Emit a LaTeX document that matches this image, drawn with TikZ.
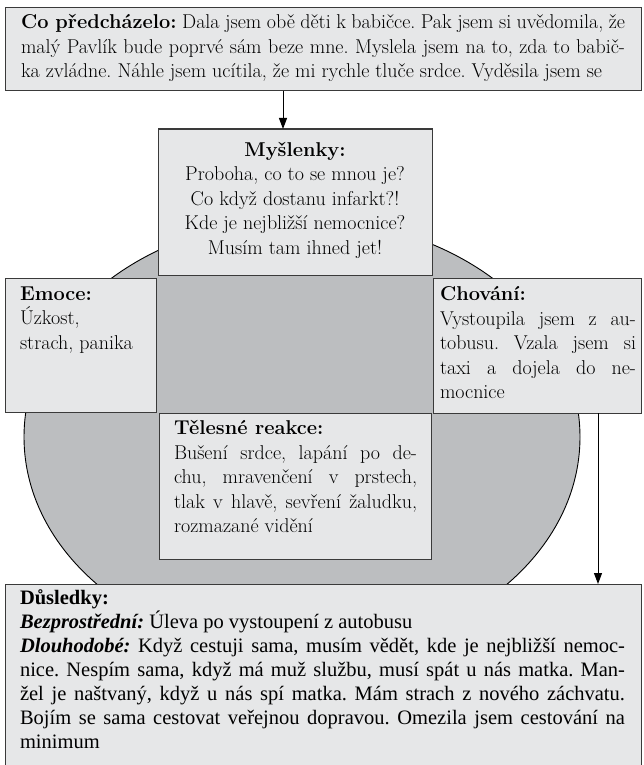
\documentclass[tikz,border=0pt]{standalone}
\usepackage{fontspec}
\newfontfamily\timesf{Liberation Serif}
\usetikzlibrary{arrows.meta,shapes.geometric}
\definecolor{boxfill}{HTML}{E6E7E8}
\definecolor{ellfill}{HTML}{BCBEC0}
\definecolor{boxline}{HTML}{3A3A3A}
\tolerance=10000
\hyphenpenalty=10000
\frenchspacing
\begin{document}
\begin{tikzpicture}[x=1pt,y=-1pt,
  panel/.style={draw=boxline, line width=1pt, fill=boxfill, inner sep=0pt, outer sep=0pt},
  txt/.style={inner sep=0pt, outer sep=0pt, anchor=north west, align=justify,
    font=\fontsize{20}{24.5}\selectfont},
  dtxt/.style={inner sep=0pt, outer sep=0pt, anchor=north west, align=justify,
    font=\timesf\fontsize{20.5}{24}\selectfont},
  arr/.style={draw=black, line width=1pt, -{Triangle[length=11pt,width=8pt]}}]
\useasboundingbox (0,0) rectangle (643,765);
\begin{scope}
\clip (0,0) rectangle (643,765);
\node[ellipse, draw=black, line width=0.9pt, fill=ellfill, minimum width=556pt,
  minimum height=436pt, inner sep=0pt] (ell) at (302,437) {};
\node[panel, minimum width=636pt, minimum height=83pt] (top) at (323,49.5) {};
\node[panel, minimum width=274pt, minimum height=146pt] (mys) at (295,202) {};
\node[panel, minimum width=151pt, minimum height=134pt] (emo) at (80.5,345) {};
\node[panel, minimum width=208pt, minimum height=135pt] (cho) at (537,345.5) {};
\node[panel, minimum width=272pt, minimum height=146pt] (tel) at (295,486) {};
\node[panel, minimum width=636pt, minimum height=191pt] (dus) at (323,679.5) {};
\end{scope}
\coordinate (a1) at (283,0);
\coordinate (a2) at (598,0);
\draw[arr] (top.south -| a1) -- (mys.north -| a1);
\draw[arr] (cho.south -| a2) -- (dus.north -| a2);
\node[txt, text width=604pt] (toptext) at (21,14.5) {\parfillskip=0pt
\textbf{Co předcházelo:} Dala jsem obě děti k babičce. Pak jsem si uvědomila, že\linebreak
malý Pavlík bude poprvé sám beze mne. Myslela jsem na to, zda to babič-\linebreak
ka zvládne. Náhle jsem ucítila, že mi rychle tluče srdce. Vyděsila jsem se};
\node[txt, align=center, anchor=north] (mystext) at (295,142) {\textbf{Myšlenky:}\\
Proboha, co to se mnou je?\\ Co když dostanu infarkt?!\\ Kde je nejbližší nemocnice?\\
Musím tam ihned jet!};
\node[txt, align=left] (emotext) at (20,286.5) {\textbf{Emoce:}\\ Úzkost,\\ strach, panika};
\node[txt, text width=196pt] (chotext) at (440,286.5) {\textbf{Chování:}\\
Vystoupila jsem z au-\linebreak tobusu. Vzala jsem si\linebreak taxi a dojela do ne-\linebreak mocnice};
\node[txt, text width=243pt] (teltext) at (174,420.5) {\textbf{Tělesné reakce:}\\
Bušení srdce, lapání po de-\linebreak chu, mravenčení v prstech,\linebreak
tlak v hlavě, sevření žaludku,\linebreak rozmazané vidění};
\node[dtxt, text width=605pt] (dustext) at (20,589.5) {\textbf{Důsledky:}\\
\textbf{\textit{Bezprostřední:}} Úleva po vystoupení z autobusu\\
\textbf{\textit{Dlouhodobé:}} Když cestuji sama, musím vědět, kde je nejbližší nemoc-\linebreak
nice. Nespím sama, když má muž službu, musí spát u nás matka. Man-\linebreak
žel je naštvaný, když u nás spí matka. Mám strach z nového záchvatu.\linebreak
Bojím se sama cestovat veřejnou dopravou. Omezila jsem cestování na\linebreak
minimum};
\end{tikzpicture}
\end{document}
